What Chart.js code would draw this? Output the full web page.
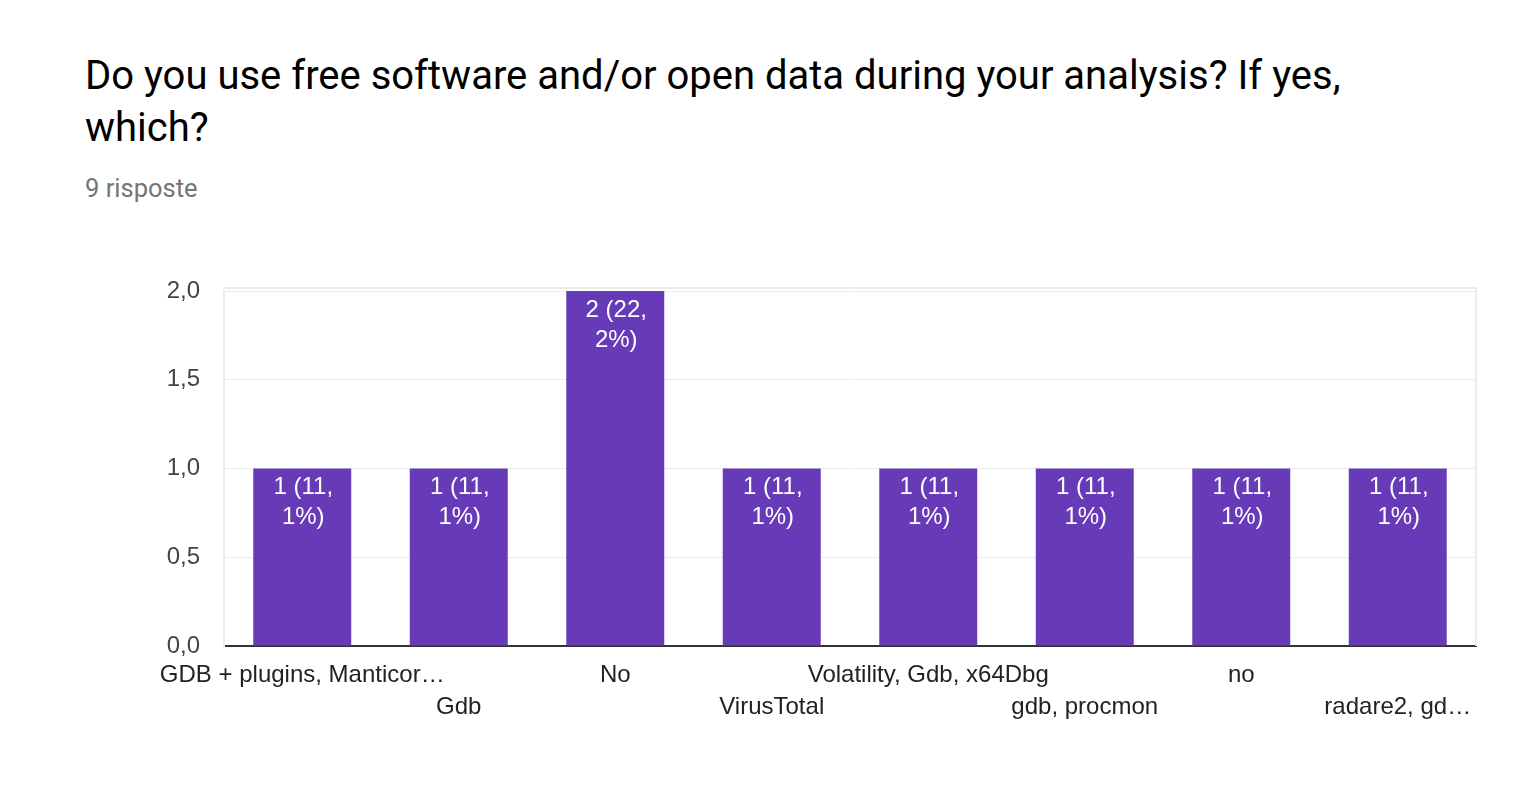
<!DOCTYPE html>
<html>
<head>
<meta charset="utf-8">
<script src="https://cdn.jsdelivr.net/npm/chart.js@4/dist/chart.umd.min.js"></script>
<style>
  html, body { margin: 0; padding: 0; background: #fff; width: 1540px; height: 812px; overflow: hidden; }
  #title { position: absolute; left: 85px; top: 50px; width: 1300px; font-family: Roboto, sans-serif; font-size: 40px; line-height: 52px; color: #000; }
  #sub { position: absolute; left: 85px; top: 173px; font-family: Roboto, sans-serif; font-size: 25.5px; line-height: 30px; color: #757575; }
  #wrap { position: absolute; left: 0; top: 240px; width: 1540px; height: 572px; }
</style>
</head>
<body>
<div id="title">Do you use free software and/or open data during your analysis? If yes, which?</div>
<div id="sub">9 risposte</div>
<div id="wrap"><canvas id="c" width="1540" height="572"></canvas></div>
<script>
const categories = ["GDB + plugins, Manticor…", "Gdb", "No", "VirusTotal", "Volatility, Gdb, x64Dbg", "gdb, procmon", "no", "radare2, gd…"];
const counts = [1, 1, 2, 1, 1, 1, 1, 1];
const percentLabels = ["11,1%", "11,1%", "22,2%", "11,1%", "11,1%", "11,1%", "11,1%", "11,1%"];
const yTicks = [0, 0.5, 1, 1.5, 2];

const FONT = '"Liberation Sans", Arial, sans-serif';

const barLabelPlugin = {
  id: 'barLabels',
  beforeDatasetsDraw(chart) {
    const a = chart.chartArea;
    const ctx = chart.ctx;
    ctx.save();
    ctx.strokeStyle = '#ebebeb';
    ctx.lineWidth = 2;
    ctx.beginPath();
    ctx.moveTo(a.right, a.top - 4);
    ctx.lineTo(a.right, a.bottom);
    ctx.moveTo(a.left, a.top - 3);
    ctx.lineTo(a.right, a.top - 3);
    ctx.stroke();
    ctx.restore();
  },
  afterDatasetsDraw(chart) {
    const ctx = chart.ctx;
    const meta = chart.getDatasetMeta(0);
    ctx.save();
    ctx.fillStyle = '#ffffff';
    ctx.font = '24px ' + FONT;
    ctx.textAlign = 'center';
    ctx.textBaseline = 'middle';
    meta.data.forEach((bar, i) => {
      const p = percentLabels[i].split(',');
      const l1 = counts[i] + ' (' + p[0] + ',';
      const l2 = p[1] + ')';
      ctx.fillText(l1, bar.x + 1, bar.y + 19);
      ctx.fillText(l2, bar.x + 1, bar.y + 49);
    });
    ctx.restore();
  }
};

new Chart(document.getElementById('c'), {
  type: 'bar',
  data: {
    labels: categories,
    datasets: [{
      data: counts,
      backgroundColor: '#673ab7',
      borderWidth: 0,
      barPercentage: 0.626,
      categoryPercentage: 1.0
    }]
  },
  options: {
    responsive: false,
    animation: false,
    events: [],
    layout: { padding: { left: 0, right: 64, top: 51, bottom: 0 } },
    plugins: { legend: { display: false }, tooltip: { enabled: false }, title: { display: false } },
    scales: {
      x: {
        grid: { display: false },
        border: { display: true, color: '#333333', width: 2 },
        ticks: {
          autoSkip: false,
          maxRotation: 0,
          minRotation: 0,
          color: '#222222',
          padding: 5,
          font: { family: FONT, size: 24, lineHeight: '32px' },
          callback: function(v, i) { return i % 2 === 0 ? [categories[i], ''] : ['', categories[i]]; }
        },
        afterFit: function(s) { s.height = 166; }
      },
      y: {
        min: 0,
        max: 2,
        afterBuildTicks: function(s) { s.ticks = yTicks.map(v => ({ value: v })); },
        grid: { color: '#ebebeb', lineWidth: 1, drawTicks: false },
        border: { display: true, color: '#ebebeb', width: 2 },
        ticks: {
          color: '#444444',
          padding: 24,
          font: { family: FONT, size: 24 },
          callback: function(v) { return v.toFixed(1).replace('.', ','); }
        },
        afterFit: function(s) { s.width = 224; }
      }
    }
  },
  plugins: [barLabelPlugin]
});
</script>
</body>
</html>
